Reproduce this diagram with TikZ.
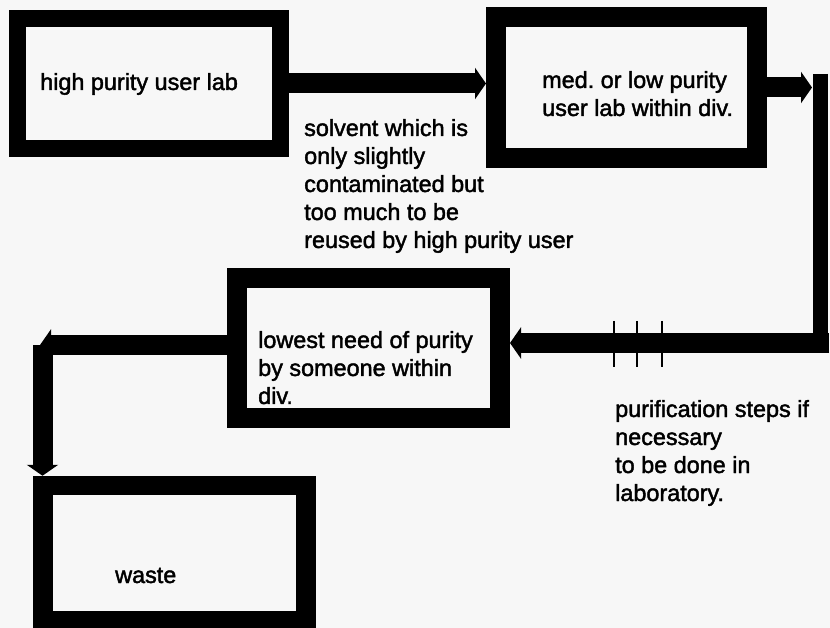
\documentclass[tikz,border=0pt]{standalone}
\usepackage{fontspec}
\setmainfont{Liberation Sans}
\newfontfamily\labfont[FakeBold=1.8]{Liberation Sans}
\usetikzlibrary{arrows.meta}
\definecolor{bgcol}{HTML}{F7F7F7}
\begin{document}
\begin{tikzpicture}[x=1pt,y=-1pt,
  box/.style={draw=black, line width=#1, inner sep=0pt, minimum width=263pt},
  conn/.style={draw=black, line width=20pt, line cap=butt},
  arr/.style={-{Triangle[width=31pt,length=11pt]}},
  tickline/.style={draw=black, line width=1.4pt},
  txt/.style={anchor=base west, inner sep=0pt, font=\labfont\fontsize{23.4}{28}\selectfont}]
\useasboundingbox (0,0) rectangle (830,628);
\fill[bgcol] (0,0) rectangle (830,628);

% boxes
\node[box=17pt, minimum height=130pt] (b1) at (149,83.5) {};
\node[box=20pt, minimum width=261pt, minimum height=141pt] (b2) at (626.5,87.5) {};
\node[box=20pt, minimum height=140pt] (b3) at (368.5,348) {};
\node[box=19.5pt, minimum height=135pt] (b4) at (174.5,553) {};

% texts
\node[txt] (t1) at (40,90) {high purity user lab};
\node[txt] (t2) at (542,88) {\begin{tabular}[t]{@{}l@{}}med.\ or low purity\\user lab within div.\end{tabular}};
\node[txt] (t3) at (304,136) {\begin{tabular}[t]{@{}l@{}}solvent which is\\only slightly\\contaminated but\\too much to be\\reused by high purity user\end{tabular}};
\node[txt] (t4) at (258,348) {\begin{tabular}[t]{@{}l@{}}lowest need of purity\\by someone within\\div.\end{tabular}};
\node[txt] (t5) at (115,583) {waste};
\node[txt] (t6) at (615,417) {\begin{tabular}[t]{@{}l@{}}purification steps if\\necessary\\to be done in\\laboratory.\end{tabular}};

% connector coordinates
\coordinate (ne) at (812,84);
\coordinate (rtop) at (820.5,74);
\coordinate (rbot) at (820.5,353);
\coordinate (se) at (829,343);
\coordinate (wtip) at (40,345);
\coordinate (wtop) at (42.5,345);

% connectors
\draw[conn,arr] (b1.east) -- (b1.east -| b2.west);
\draw[conn,arr] (b2.east) -- (b2.east -| ne);
\draw[conn,line width=15pt] (rtop) -- (rbot);
\draw[conn,arr] (se) -- (se -| b3.east);
\draw[conn,arr] (wtip -| b3.west) -- (wtip);
\draw[conn,arr] (wtop) -- (wtop |- b4.north);

% purification step ticks
\draw[tickline] (614,321) -- (614,367);
\draw[tickline] (637,321) -- (637,367);
\draw[tickline] (662,321) -- (662,367);
\end{tikzpicture}
\end{document}
